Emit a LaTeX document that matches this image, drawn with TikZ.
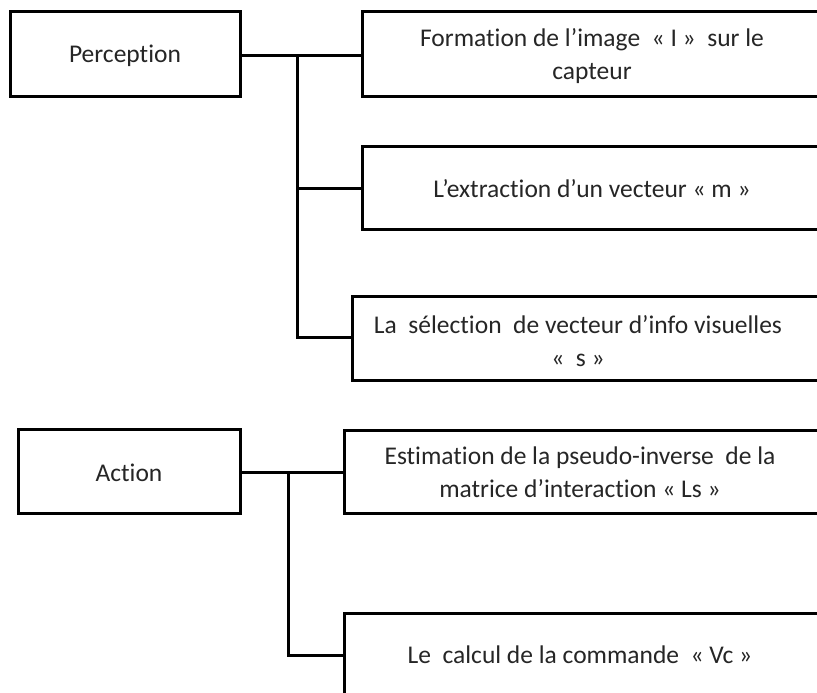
\documentclass[tikz,border=0pt]{standalone}
\usepackage{fontspec}
\setmainfont[Ligatures={NoCommon}]{Carlito}
\begin{document}
\begin{tikzpicture}[x=1pt,y=-1pt,
  box/.style={draw=black, line width=3pt, fill=white, inner sep=0pt},
  link/.style={draw=black, line width=3pt},
  txt/.style={align=center, inner sep=0pt, text=black!85, font=\fontsize{25.5}{33}\selectfont}]
\useasboundingbox (0,0) rectangle (817,693);
\clip (0,0) rectangle (817,693);
\fill[white] (0,0) rectangle (817,693);

% left-hand category boxes
\node[box, minimum width=230pt, minimum height=85pt] (perc) at (125,54.5) {};
\node[txt] (tperc) at (125,56) {Perception};
\node[box, minimum width=222pt, minimum height=84pt] (act) at (129,471) {};
\node[txt] (tact) at (129,472.5) {Action};

% right-hand step boxes (they run past the right border)
\node[box, minimum width=480pt, minimum height=85pt, anchor=west] (s1) at (361,54.5) {};
\node[box, minimum width=480pt, minimum height=83pt, anchor=west] (s2) at (361,188) {};
\node[box, minimum width=490pt, minimum height=84pt, anchor=west] (s3) at (351,338.5) {};
\node[box, minimum width=500pt, minimum height=83pt, anchor=west] (s4) at (343,471.5) {};
\node[box, minimum width=500pt, minimum height=84pt, anchor=west] (s5) at (343,655) {};

\node[txt] (t1) at (592,56.5) {Formation de l’image ~«~I~»~ sur le\\capteur};
\node[txt] (t2) at (592,189) {L’extraction d’un vecteur « m »};
\node[txt] (t3) at (578,341) {La ~sélection ~de vecteur d’info visuelles\\« ~s »};
\node[txt] (t4) at (580,472.5) {Estimation de la pseudo-inverse ~de la\\matrice d’interaction « Ls »};
\node[txt] (t5) at (580,655) {Le ~calcul de la commande ~« Vc »};

% branch points of the two trees
\coordinate (j1) at (297,56);
\coordinate (j2) at (288,472);

% Perception tree
\draw[link] (perc.east |- j1) -- (s1.west |- j1);
\draw[link] (j1) |- (s3.west |- 0,337);
\draw[link] (j1 |- s2.west) -- (s2.west);

% Action tree
\draw[link] (act.east |- j2) -- (s4.west |- j2);
\draw[link] (j2) |- (s5.west);
\end{tikzpicture}
\end{document}
